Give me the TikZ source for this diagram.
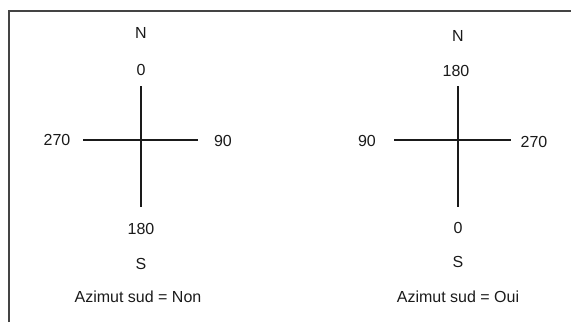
\documentclass[tikz,border=0pt]{standalone}
\usepackage{fontspec}
\setmainfont{Liberation Sans}
\usepackage{tikz}
\usetikzlibrary{positioning}
\definecolor{ink}{HTML}{1A1A1A}
\definecolor{frame}{HTML}{444444}

\begin{document}
\begin{tikzpicture}[x=1pt,y=-1pt,font=\fontsize{16}{18}\selectfont,
  lbl/.style={inner sep=0pt,text=ink},
  arm/.style={draw=ink,line width=1.6pt},
  edge/.style={draw=frame,line width=1.8pt}]
\useasboundingbox (0,0) rectangle (571,322);
% frame
\coordinate (fa) at (9,322); \coordinate (fb) at (9,11); \coordinate (fc) at (571,11);
\draw[edge] (fa) -- (fb) -- (fc);
% left compass: azimut sud = non
\coordinate (lt) at (141,86); \coordinate (lb) at (141,207);
\coordinate (ll) at (83,140); \coordinate (lr) at (198,140);
\draw[arm] (lt) -- (lb); \draw[arm] (ll) -- (lr);
\node[lbl] (ln) at (141,33) {N};
\node[lbl] (l0) at (141,70) {0};
\node[lbl] (l270) at (57,140) {270};
\node[lbl] (l90) at (223,141) {90};
\node[lbl] (l180) at (141,229) {180};
\node[lbl] (ls) at (141,264) {S};
\node[lbl] (lcap) at (138,297) {Azimut sud = Non};
% right compass: azimut sud = oui
\coordinate (rt) at (458,86); \coordinate (rb) at (458,207);
\coordinate (rl) at (394,140); \coordinate (rr) at (511,140);
\draw[arm] (rt) -- (rb); \draw[arm] (rl) -- (rr);
\node[lbl] (rn) at (458,36) {N};
\node[lbl] (r180) at (456,71) {180};
\node[lbl] (r90) at (367,141) {90};
\node[lbl] (r270) at (534,142) {270};
\node[lbl] (r0) at (458,228) {0};
\node[lbl] (rs) at (458,262) {S};
\node[lbl] (rcap) at (458,297) {Azimut sud = Oui};
\end{tikzpicture}
\end{document}
